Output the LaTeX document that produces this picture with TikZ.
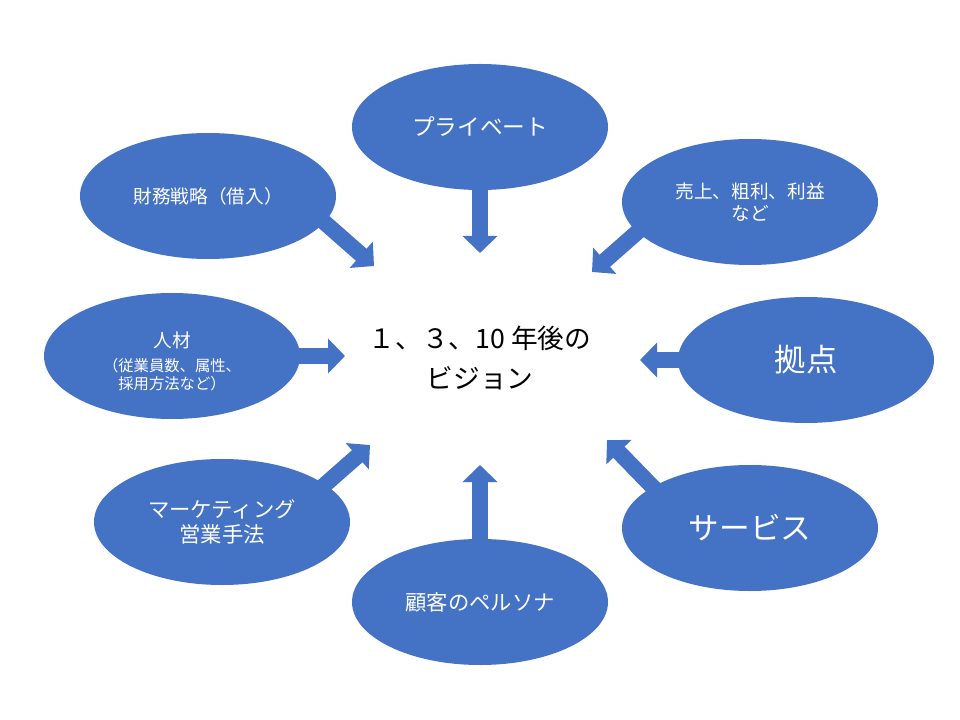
\documentclass[tikz,border=0pt]{standalone}
\usepackage{fontspec}
\setmainfont{Noto Sans CJK JP}
\usetikzlibrary{shapes.geometric,arrows.meta,backgrounds}
\definecolor{accent}{HTML}{4472C4}
\newcommand{\smallsub}{\fontsize{11.5pt}{13.5pt}\selectfont}
\begin{document}
\begin{tikzpicture}[x=0.75pt,y=-0.75pt,
  bubble/.style={ellipse, fill=accent, draw=none, minimum width=192pt, minimum height=94.5pt,
    inner sep=0pt, text=white, align=center},
  blockarrow/.style={draw=accent, line width=12pt, line cap=butt,
    -{Triangle[width=25.5pt,length=12.75pt]}},
  centertext/.style={align=center, text=black, font=\fontsize{20pt}{30pt}\selectfont}]
\useasboundingbox (0,0) rectangle (960,720);

% ellipses
\node[bubble, font=\fontsize{17pt}{20pt}\selectfont] (priv) at (480,127) {プライベート};
\node[bubble, font=\fontsize{14pt}{18pt}\selectfont] (fin) at (208,196) {財務戦略（借入）};
\node[bubble, font=\fontsize{14pt}{16.5pt}\selectfont] (sales) at (750,202) {売上、粗利、利益\\など};
\node[bubble, font=\fontsize{14pt}{13.5pt}\selectfont] (hr) at (172,356) {\rule{0pt}{20pt}人材\\[4.5pt]
  \smallsub （従業員数、属性、\\\smallsub 採用方法など）};
\node[bubble, font=\fontsize{23.5pt}{26pt}\selectfont] (base) at (806,360) {拠点};
\node[bubble, font=\fontsize{16pt}{19pt}\selectfont] (mkt) at (222,522) {マーケティング\\営業手法};
\node[bubble, font=\fontsize{23pt}{26pt}\selectfont] (svc) at (750,528) {サービス};
\node[bubble, font=\fontsize{16pt}{19pt}\selectfont] (pers) at (480,602) {顧客のペルソナ};

% centre text
\node[centertext] (vision) at (480,358) {１、３、10 年後の\\ビジョン};

% arrow end points
\coordinate (tPriv) at (480,253);
\coordinate (sFin) at (299,200);
\coordinate (tFin) at (374,266);
\coordinate (sSales) at (667,206);
\coordinate (tSales) at (592,272);
\coordinate (tHr) at (345,356);
\coordinate (tBase) at (640,360);
\coordinate (sMkt) at (295,511);
\coordinate (tMkt) at (370,445);
\coordinate (sSvc) at (679,514);
\coordinate (tSvc) at (607,440);
\coordinate (tPers) at (480,465);

\begin{scope}[on background layer]
  \draw[blockarrow] (priv.center) -- (tPriv);
  \draw[blockarrow] (sFin) -- (tFin);
  \draw[blockarrow] (sSales) -- (tSales);
  \draw[blockarrow] (hr.center) -- (tHr);
  \draw[blockarrow] (base.center) -- (tBase);
  \draw[blockarrow] (sMkt) -- (tMkt);
  \draw[blockarrow] (sSvc) -- (tSvc);
  \draw[blockarrow] (pers.center) -- (tPers);
\end{scope}
\end{tikzpicture}
\end{document}
